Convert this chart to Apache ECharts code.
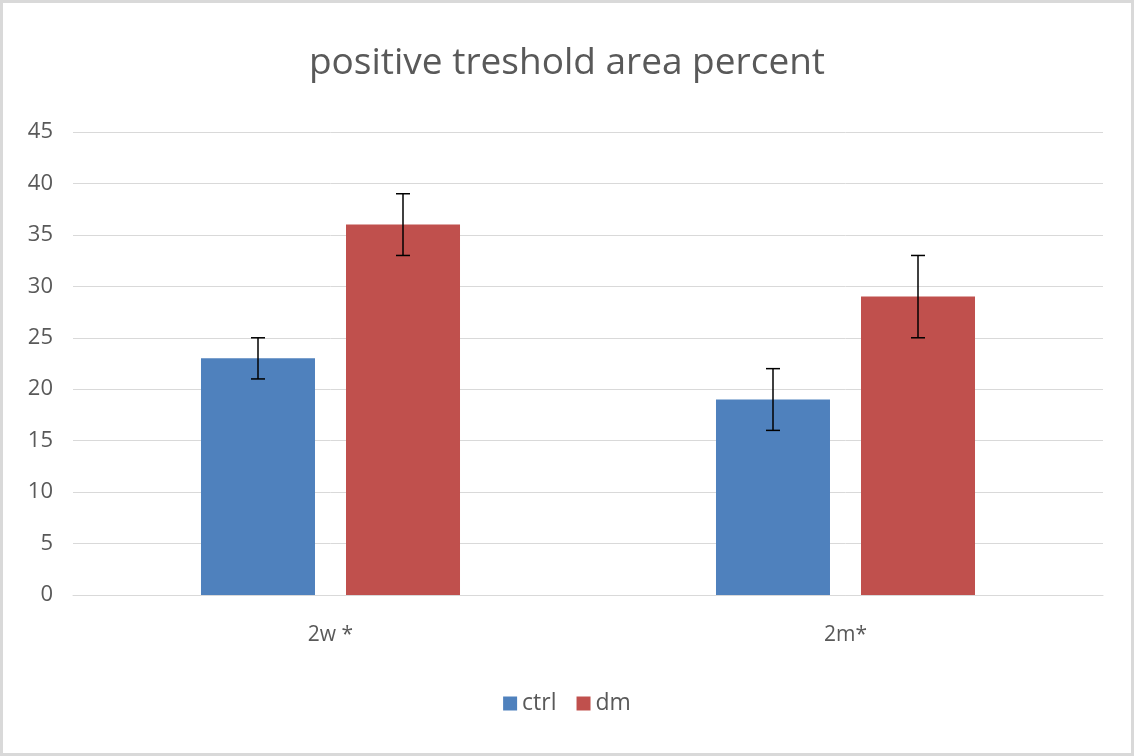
<!DOCTYPE html>
<html>
<head>
<meta charset="utf-8">
<script src="https://cdn.jsdelivr.net/npm/echarts@6/dist/echarts.min.js"></script>
<style>
  html, body { margin: 0; padding: 0; background: #fff; }
  #chart { width: 1134px; height: 756px; box-sizing: border-box; border: 3px solid #d9d9d9; }
</style>
</head>
<body>
<div id="chart"></div>
<script>
// values
var categories = ['2w *', '2m*'];
var ctrlValues = [23, 19];
var ctrlErrLow = [21, 16];
var ctrlErrHigh = [25, 22];
var dmValues = [36, 29];
var dmErrLow = [33, 25];
var dmErrHigh = [39, 33];
var yTicks = { min: 0, max: 45, interval: 5 };

var BAR_W = 114;
var GAP = 31;
var FONT = '"Open Sans", "Noto Sans", sans-serif';

function errorSeries(low, high, offset) {
    var data = low.map(function (l, i) { return [i, l, high[i]]; });
    return {
        type: 'custom',
        silent: true,
        z: 10,
        data: data,
        encode: { x: 0, y: [1, 2] },
        renderItem: function (params, api) {
            var lo = api.coord([api.value(0), api.value(1)]);
            var hi = api.coord([api.value(0), api.value(2)]);
            var x = lo[0] + offset;
            var cap = 7;
            var style = { stroke: '#000', lineWidth: 1.5 };
            return {
                type: 'group',
                children: [
                    { type: 'line', shape: { x1: x, y1: hi[1], x2: x, y2: lo[1] }, style: style },
                    { type: 'line', shape: { x1: x - cap, y1: hi[1], x2: x + cap, y2: hi[1] }, style: style },
                    { type: 'line', shape: { x1: x - cap, y1: lo[1], x2: x + cap, y2: lo[1] }, style: style }
                ]
            };
        }
    };
}

var chart = echarts.init(document.getElementById('chart'));
var half = (BAR_W + GAP) / 2;

chart.setOption({
    animation: false,
    backgroundColor: '#fff',
    title: {
        text: 'positive treshold area percent',
        left: 'center',
        top: 37,
        textStyle: { fontFamily: FONT, fontSize: 37, fontWeight: 'normal', color: '#595959' }
    },
    legend: {
        bottom: 33,
        left: 'center',
        itemWidth: 14,
        itemHeight: 14,
        itemGap: 20,
        icon: 'rect',
        data: ['ctrl', 'dm'],
        textStyle: { fontFamily: FONT, fontSize: 23, color: '#595959' }
    },
    grid: { left: 70, right: 28, top: 129, bottom: 158, containLabel: false },
    xAxis: {
        type: 'category',
        data: categories,
        axisLine: { lineStyle: { color: '#d9d9d9', width: 1 } },
        axisTick: { show: false },
        axisLabel: { fontFamily: FONT, fontSize: 21, color: '#595959', margin: 30 }
    },
    yAxis: {
        type: 'value',
        min: yTicks.min,
        max: yTicks.max,
        interval: yTicks.interval,
        axisLine: { show: false },
        axisTick: { show: false },
        splitLine: { lineStyle: { color: '#d9d9d9', width: 1 } },
        axisLabel: { fontFamily: FONT, fontSize: 22, color: '#595959', margin: 20 }
    },
    series: [
        {
            name: 'ctrl',
            type: 'bar',
            data: ctrlValues,
            barWidth: BAR_W,
            barGap: (GAP / BAR_W * 100).toFixed(1) + '%',
            itemStyle: { color: '#4f81bd' }
        },
        {
            name: 'dm',
            type: 'bar',
            data: dmValues,
            barWidth: BAR_W,
            itemStyle: { color: '#c0504d' }
        },
        errorSeries(ctrlErrLow, ctrlErrHigh, -half),
        errorSeries(dmErrLow, dmErrHigh, half)
    ]
});
</script>
</body>
</html>
